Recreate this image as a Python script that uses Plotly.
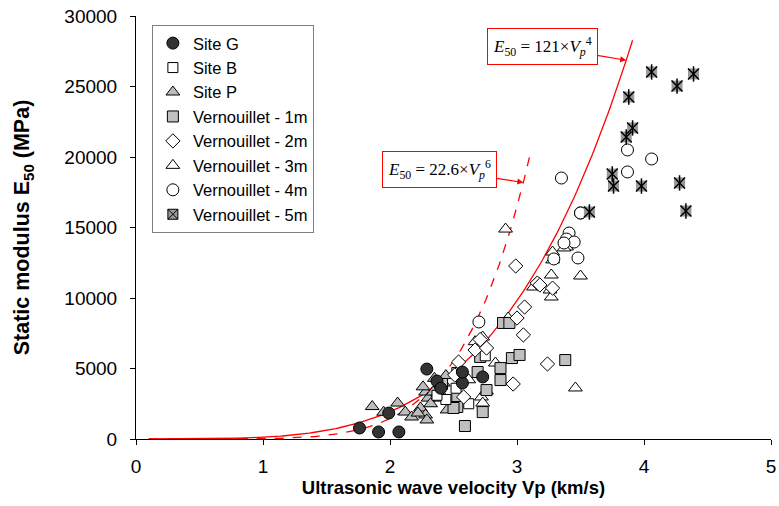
import numpy as np
import plotly.graph_objects as go

# ---- data (Vp in km/s, E50 in MPa) ----
site_g_vp = [1.76, 1.91, 2.07, 1.99, 2.29, 2.37, 2.57, 2.57, 2.73, 2.40]
site_g_e = [780, 500, 500, 1840, 4960, 4110, 3970, 4750, 4400, 3600]

site_b_vp = [2.44, 2.52, 2.37, 2.75, 2.62]
site_b_e = [2800, 3600, 3100, 5900, 2500]

site_p_vp = [1.86, 1.95, 2.06, 2.12, 2.17, 2.24, 2.28, 2.29, 2.28, 2.30, 2.34, 2.37, 2.39, 2.42, 2.45, 2.22,
             2.32, 2.26, 2.35, 2.44]
site_p_e = [2300, 1900, 2550, 1910, 1560, 2200, 1700, 1350, 3330, 2900, 3330, 2900, 3330, 3970, 2060, 1840,
            2500, 3700, 4300, 4500]

v1_vp = [2.89, 2.94, 2.53, 2.69, 2.71, 2.76, 2.53, 2.53, 2.50, 2.73, 2.59, 2.87, 2.87, 2.96, 3.02, 3.38, 2.41]
v1_e = [8230, 8230, 4680, 4750, 5820, 3470, 2980, 2270, 2200, 1910, 920, 5030, 4180, 5740, 5960, 5600, 3900]

v2_vp = [2.99, 3.16, 3.18, 3.06, 3.00, 3.05, 2.67, 2.76, 2.54, 3.24, 2.97, 2.58, 2.51, 3.28, 2.71]
v2_e = [12270, 11060, 10920, 9360, 8580, 7380, 6310, 6450, 5460, 5320, 3900, 2980, 4540, 10700, 7050]

v3_vp = [2.91, 3.28, 3.28, 3.27, 3.13, 3.26, 3.27, 3.39, 3.37, 3.50, 2.73, 2.93, 2.83, 3.46, 2.72, 2.73,
         2.76, 2.62, 2.67]
v3_e = [14890, 13260, 12700, 11630, 10780, 10570, 10070, 13620, 13550, 11560, 7230, 8580, 5390, 3620, 2980,
        2550, 3400, 4200, 6900]

v4_vp = [2.70, 3.35, 3.50, 3.41, 3.39, 3.45, 3.29, 3.48, 3.87, 4.06, 3.87, 3.50, 3.37]
v4_e = [8300, 18510, 16030, 14610, 14180, 13970, 12770, 12840, 20500, 19860, 18940, 16030, 13900]

v5_vp = [4.06, 4.39, 4.26, 3.88, 3.91, 3.86, 3.75, 3.76, 3.98, 4.28, 4.33, 3.57]
v5_e = [26030, 25890, 25030, 24250, 22060, 21420, 18790, 17940, 17940, 18160, 16170, 16100]

# fitted laws E50 = a * Vp^n
fit_a = [121.0, 22.6]
fit_n = [4, 6]
fit_vmax = [3.91, 3.10]

x_ticks = [0, 1, 2, 3, 4, 5]
y_ticks = [0, 5000, 10000, 15000, 20000, 25000, 30000]

fig = go.Figure()

# fit curves
for a, n, vmax, dash in zip(fit_a, fit_n, fit_vmax, ["solid", "dash"]):
    v = np.linspace(0.1, vmax, 200)
    fig.add_trace(go.Scatter(x=v, y=a * v ** n, mode="lines", showlegend=False,
                             line=dict(color="red", width=1.3, dash=dash), hoverinfo="skip"))

def pts(x, y, name, symbol, fill, size=11, lw=1, show=True, lcolor="black", group=None):
    fig.add_trace(go.Scatter(x=x, y=y, mode="markers", name=name, showlegend=show,
                             legendgroup=group or name,
                             marker=dict(symbol=symbol, size=size, color=fill,
                                         line=dict(color=lcolor, width=lw))))

pts(site_p_vp, site_p_e, "Site P", "triangle-up", "#bdbdbd", size=12)
pts(v3_vp, v3_e, "Vernouillet - 3m", "triangle-up", "white", size=12)
pts(v1_vp, v1_e, "Vernouillet - 1m", "square", "#c0c0c0", size=11)
pts(site_b_vp, site_b_e, "Site B", "square", "white", size=10)
pts(v2_vp, v2_e, "Vernouillet - 2m", "diamond", "white", size=11)
pts(v4_vp, v4_e, "Vernouillet - 4m", "circle", "white", size=12)
pts(site_g_vp, site_g_e, "Site G", "circle", "#333333", size=12)
# Vernouillet - 5m: grey square with black asterisk
pts(v5_vp, v5_e, "Vernouillet - 5m", "square", "#999999", size=11, lw=0, show=False, lcolor="#999999", group="v5")
pts(v5_vp, v5_e, "Vernouillet - 5m", "x-thin", "black", size=11, lw=1.5, show=False, group="v5")
pts(v5_vp, v5_e, "Vernouillet - 5m", "line-ns", "black", size=11, lw=1.5, show=False, group="v5")
fig.add_trace(go.Scatter(x=[None], y=[None], mode="markers", name="Vernouillet - 5m", legendgroup="v5",
                         marker=dict(symbol="square-x", size=10, color="#999999",
                                     line=dict(color="black", width=1))))

fig.update_layout(
    width=779, height=506,
    margin=dict(l=136, r=8, t=16, b=67),
    plot_bgcolor="white", paper_bgcolor="white",
    font=dict(family="Liberation Sans, Arial, sans-serif", size=16, color="black"),
    legend=dict(x=0.025, y=0.979, xanchor="left", yanchor="top",
                bgcolor="white", bordercolor="#808080", borderwidth=1,
                font=dict(size=16.5), traceorder="normal", tracegroupgap=0, itemwidth=30),
    showlegend=True,
)
fig.update_xaxes(range=[0, 5], tickvals=x_ticks, showline=True, linecolor="black", linewidth=1,
                 ticks="outside", ticklen=5, tickcolor="black", showgrid=False, zeroline=False,
                 automargin=False, ticklabeloverflow="allow", ticklabelstandoff=5,
                 title=dict(text="<b>Ultrasonic wave velocity Vp (km/s)</b>", font=dict(size=18.5), standoff=5),
                 tickfont=dict(size=19))
fig.update_yaxes(range=[0, 30000], tickvals=y_ticks, tickformat="d", showline=True, linecolor="black",
                 linewidth=1, ticks="outside", ticklen=5, tickcolor="black", showgrid=False, zeroline=False,
                 automargin=False, ticklabeloverflow="allow", ticklabelstandoff=9,
                 title=dict(text="<b>Static modulus E<sub>50</sub> (MPa)</b>", font=dict(size=21.5), standoff=28),
                 tickfont=dict(size=19))

# legend order
order = ["Site G", "Site B", "Site P", "Vernouillet - 1m", "Vernouillet - 2m",
         "Vernouillet - 3m", "Vernouillet - 4m", "Vernouillet - 5m"]
for tr in fig.data:
    if tr.name in order and tr.showlegend is not False:
        tr.legendrank = order.index(tr.name) + 1

ann_font = dict(family="Liberation Serif, Times New Roman, serif", size=17, color="black")
eq_texts = ["<i>E</i><sub>50</sub> = 121×<i>V</i><sub><i>p</i></sub><sup>4</sup>",
            "<i>E</i><sub>50</sub> = 22.6×<i>V</i><sub><i>p</i></sub><sup>6</sup>"]
tips_v = [3.86, 3.05]
offsets = [(-84, -14), (-84, -13)]
for a, n, t, vtip, (ax, ay) in zip(fit_a, fit_n, eq_texts, tips_v, offsets):
    fig.add_annotation(x=vtip, y=a * vtip ** n, text=t, showarrow=True, ax=ax, ay=ay,
                       arrowcolor="red", arrowhead=2, arrowsize=1, arrowwidth=1.2,
                       bordercolor="red", borderwidth=1, borderpad=5, bgcolor="white", font=ann_font)

# remove the default page margin so the figure fills the window exactly
fig.write_html("out.html", config={"displayModeBar": False},
               post_script="document.body.style.margin='0';")
